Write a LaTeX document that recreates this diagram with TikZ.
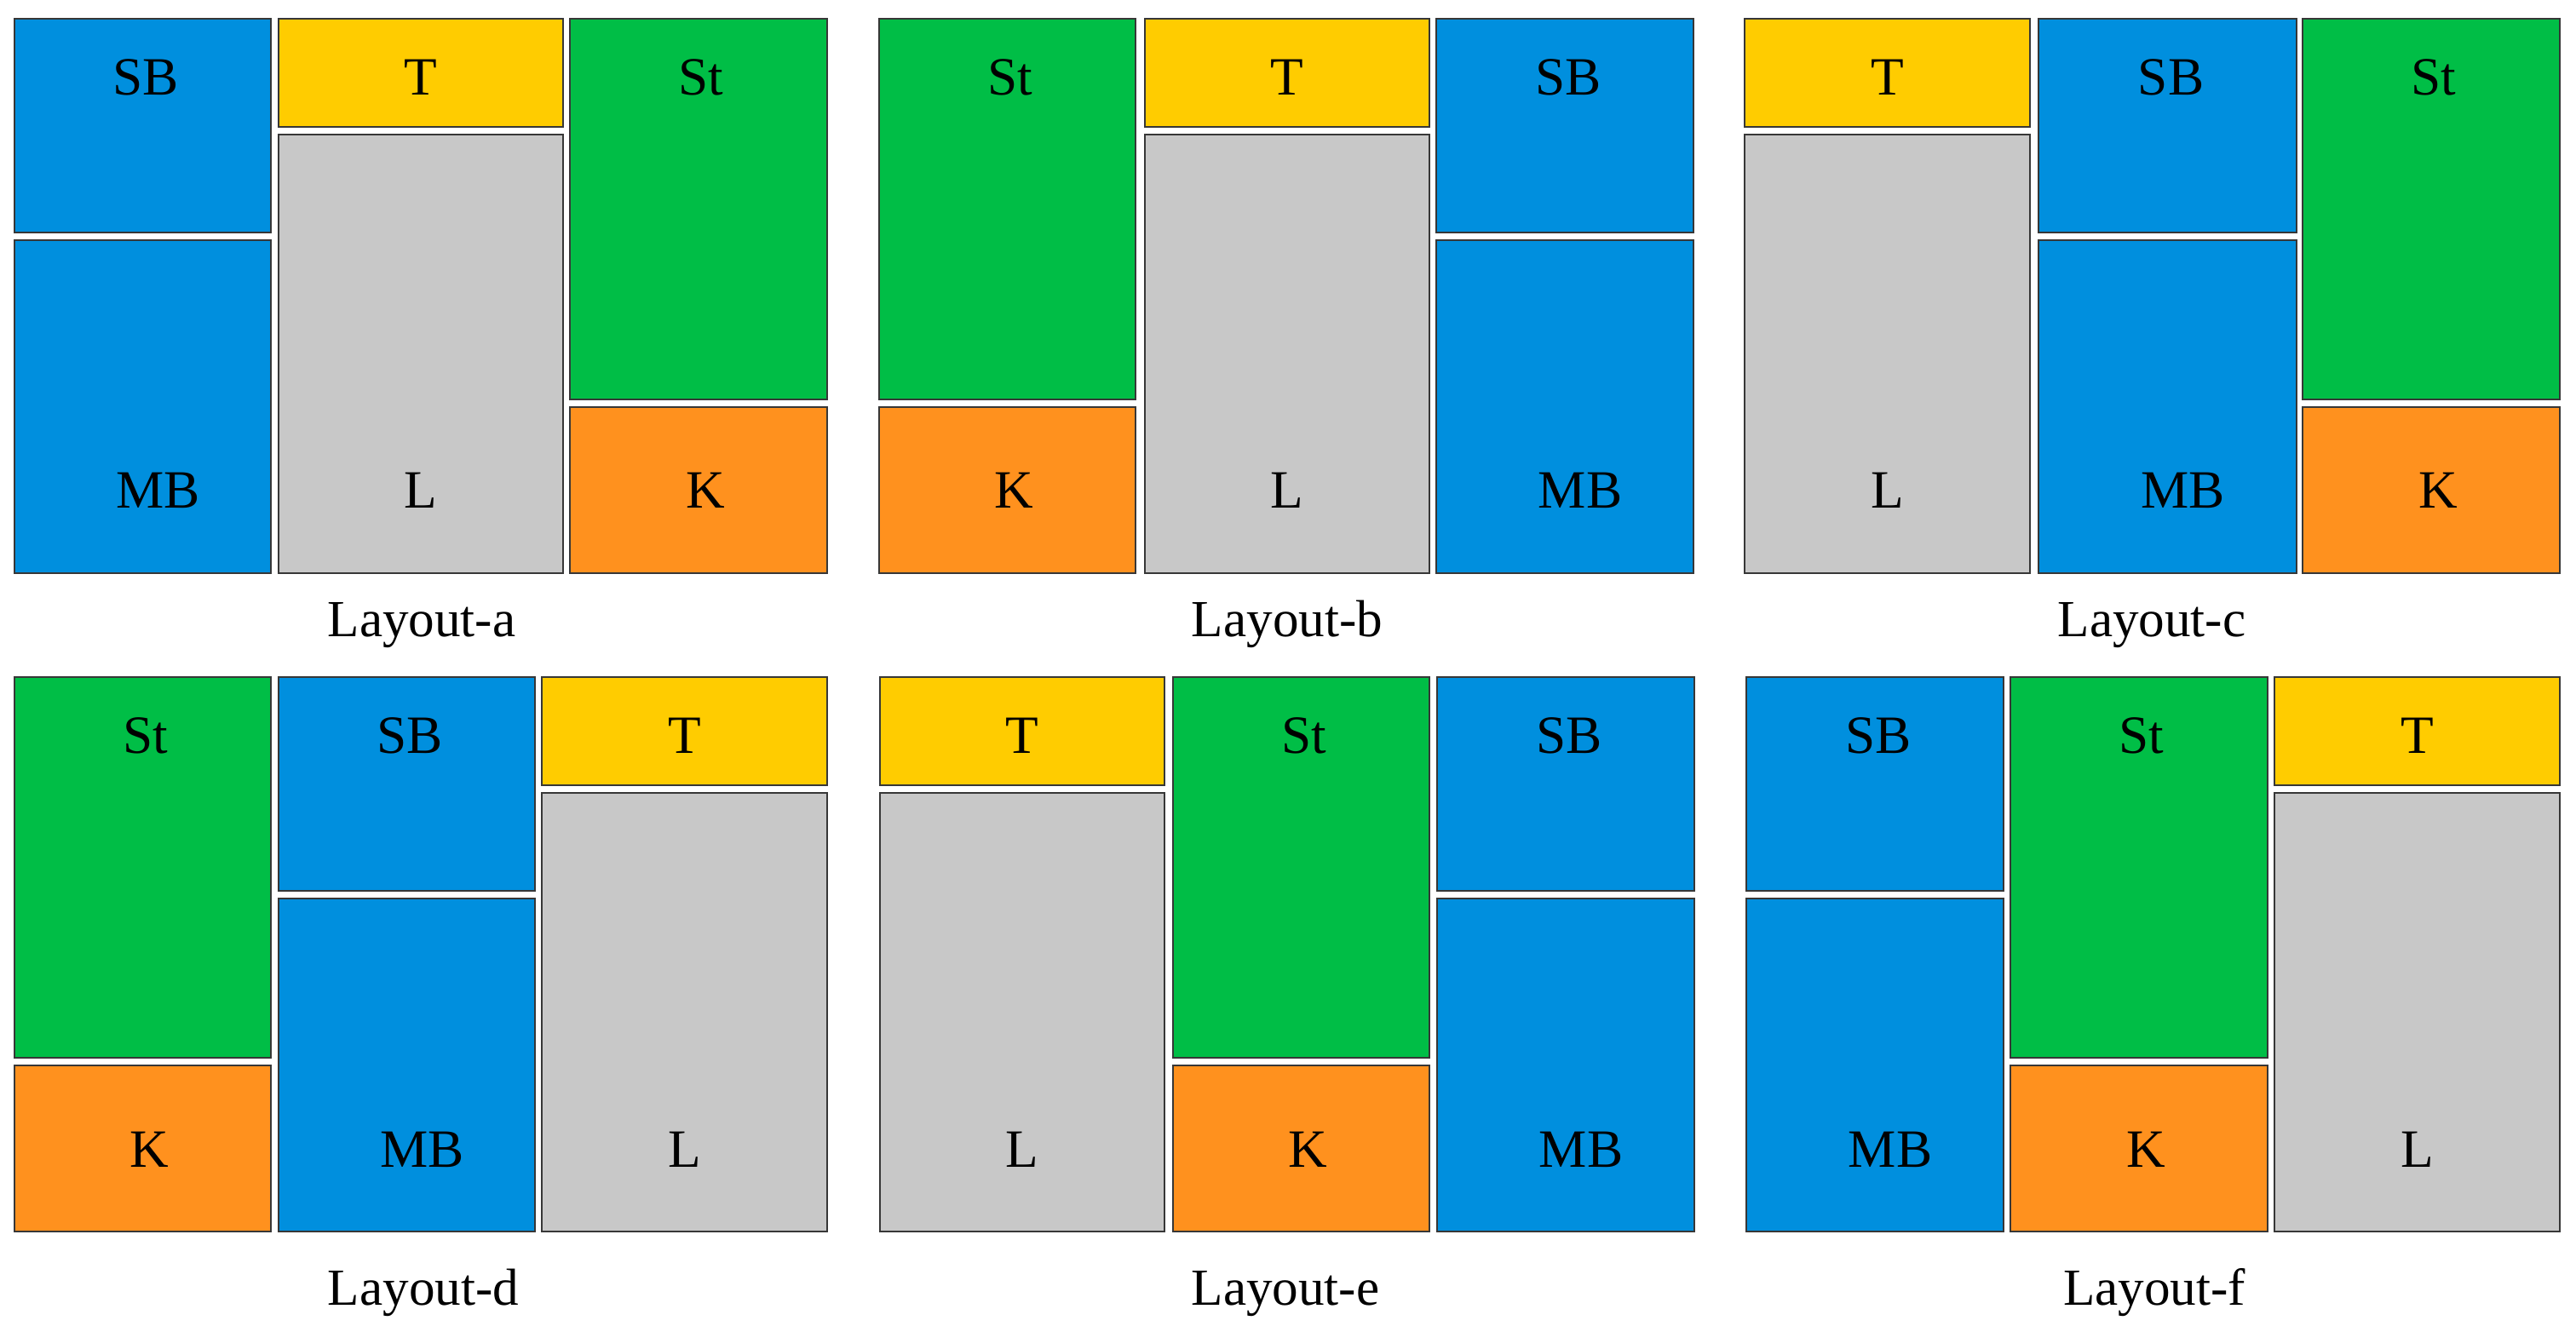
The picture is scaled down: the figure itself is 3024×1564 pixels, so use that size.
\documentclass[tikz,border=0pt]{standalone}
\usepackage{fontspec}
\setmainfont{Liberation Serif}
\definecolor{sbblue}{RGB}{0,143,222}
\definecolor{stgreen}{RGB}{0,190,70}
\definecolor{tyellow}{RGB}{255,204,0}
\definecolor{korange}{RGB}{255,145,30}
\definecolor{lgray}{RGB}{200,200,200}
\definecolor{edge}{RGB}{55,55,55}

% one column of a layout: name, left, right, top, height of upper box, upper kind, lower kind
\newcommand{\twobox}[7]{%
    \draw[box, box #6] (#2,#4) rectangle (#3,#4+#5);
    \draw[box, box #7] (#2,#4+#5+9) rectangle (#3,#4+651);
    \node[lbl, lbl #6] (#1-#6) at ({(#2+#3)/2},#4+90) {#6};
    \node[lbl, lbl #7] (#1-#7) at ({(#2+#3)/2},#4+575) {#7};
}
\newcommand{\colTL}[4]{\twobox{#1}{#2}{#3}{#4}{127}{T}{L}}
\newcommand{\colSB}[4]{\twobox{#1}{#2}{#3}{#4}{251}{SB}{MB}}
\newcommand{\colSt}[4]{\twobox{#1}{#2}{#3}{#4}{447}{St}{K}}

\begin{document}
\begin{tikzpicture}[
        x=0.1mm,
        y=-0.1mm,
        box/.style={draw=edge, line width=0.55pt},
        box SB/.style={fill=sbblue},
        box MB/.style={fill=sbblue},
        box T/.style={fill=tyellow},
        box L/.style={fill=lgray},
        box St/.style={fill=stgreen},
        box K/.style={fill=korange},
        lbl/.style={anchor=base, inner sep=0pt, font=\fontsize{18}{20}\selectfont},
        lbl SB/.style={xshift=0.4mm},
        lbl MB/.style={xshift=1.8mm},
        lbl T/.style={},
        lbl L/.style={},
        lbl St/.style={xshift=0.3mm},
        lbl K/.style={xshift=0.8mm},
        caption/.style={anchor=base, inner sep=0pt, font=\fontsize{17.4}{20}\selectfont}
    ]
    \useasboundingbox (0,0) rectangle (3024,1564);

    % top row
    \colSB{a1}{17}{318}{22}
    \colTL{a2}{327}{661}{22}
    \colSt{a3}{669}{971}{22}

    \colSt{b1}{1032}{1333}{22}
    \colTL{b2}{1344}{1678}{22}
    \colSB{b3}{1686}{1988}{22}

    \colTL{c1}{2048}{2383}{22}
    \colSB{c2}{2393}{2696}{22}
    \colSt{c3}{2703}{3005}{22}

    % bottom row
    \colSt{d1}{17}{318}{795}
    \colSB{d2}{327}{628}{795}
    \colTL{d3}{636}{971}{795}

    \colTL{e1}{1033}{1367}{795}
    \colSt{e2}{1377}{1678}{795}
    \colSB{e3}{1687}{1989}{795}

    \colSB{f1}{2050}{2352}{795}
    \colSt{f2}{2360}{2662}{795}
    \colTL{f3}{2670}{3005}{795}

    \node[caption] (capa) at (495,748) {Layout-a};
    \node[caption] (capb) at (1511,748) {Layout-b};
    \node[caption] (capc) at (2526,748) {Layout-c};
    \node[caption] (capd) at (497,1532) {Layout-d};
    \node[caption] (cape) at (1509,1532) {Layout-e};
    \node[caption] (capf) at (2529,1532) {Layout-f};
\end{tikzpicture}
\end{document}
